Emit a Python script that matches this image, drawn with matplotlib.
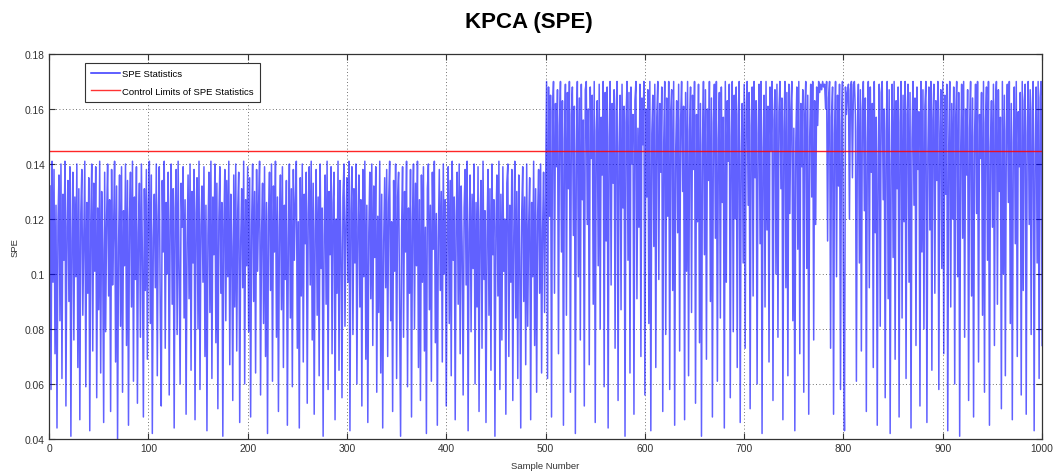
import numpy as np
import matplotlib.pyplot as plt

# SPE values, samples 1..500 (normal operation)
spe_normal = [
    0.132, 0.058, 0.141, 0.097, 0.138, 0.071, 0.125, 0.044, 0.119, 0.136, 0.083, 0.140, 0.062, 0.129, 0.105, 0.141, 0.052, 0.117, 0.134, 0.090,
    0.139, 0.041, 0.112, 0.137, 0.076, 0.128, 0.099, 0.140, 0.066, 0.131, 0.047, 0.122, 0.138, 0.085, 0.114, 0.141, 0.059, 0.126, 0.093, 0.135,
    0.043, 0.118, 0.140, 0.072, 0.133, 0.101, 0.139, 0.055, 0.124, 0.087, 0.141, 0.064, 0.130, 0.109, 0.046, 0.137, 0.079, 0.121, 0.140, 0.092,
    0.127, 0.050, 0.138, 0.096, 0.116, 0.141, 0.068, 0.132, 0.040, 0.110, 0.136, 0.081, 0.139, 0.057, 0.123, 0.103, 0.140, 0.074, 0.134, 0.045,
    0.120, 0.137, 0.088, 0.141, 0.061, 0.128, 0.098, 0.139, 0.053, 0.115, 0.133, 0.077, 0.140, 0.106, 0.048, 0.131, 0.094, 0.138, 0.069, 0.125,
    0.141, 0.082, 0.136, 0.042, 0.113, 0.129, 0.095, 0.140, 0.063, 0.121, 0.139, 0.086, 0.052, 0.134, 0.108, 0.141, 0.073, 0.126, 0.100, 0.137,
    0.056, 0.119, 0.140, 0.089, 0.131, 0.044, 0.124, 0.138, 0.078, 0.141, 0.102, 0.060, 0.133, 0.117, 0.139, 0.084, 0.127, 0.049, 0.111, 0.136,
    0.091, 0.140, 0.065, 0.130, 0.104, 0.138, 0.047, 0.122, 0.135, 0.080, 0.141, 0.058, 0.118, 0.132, 0.097, 0.139, 0.070, 0.125, 0.043, 0.114,
    0.137, 0.086, 0.141, 0.062, 0.128, 0.107, 0.140, 0.075, 0.133, 0.051, 0.120, 0.139, 0.093, 0.126, 0.041, 0.116, 0.138, 0.083, 0.134, 0.099,
    0.141, 0.067, 0.129, 0.110, 0.054, 0.136, 0.088, 0.140, 0.072, 0.123, 0.137, 0.046, 0.112, 0.131, 0.095, 0.141, 0.060, 0.127, 0.103, 0.139,
    0.079, 0.135, 0.048, 0.118, 0.140, 0.090, 0.130, 0.064, 0.138, 0.101, 0.124, 0.141, 0.056, 0.115, 0.133, 0.082, 0.139, 0.070, 0.126, 0.042,
    0.121, 0.137, 0.094, 0.140, 0.061, 0.132, 0.108, 0.141, 0.077, 0.128, 0.050, 0.117, 0.136, 0.087, 0.139, 0.066, 0.125, 0.098, 0.134, 0.045,
    0.113, 0.140, 0.084, 0.131, 0.059, 0.138, 0.105, 0.127, 0.141, 0.073, 0.119, 0.044, 0.135, 0.092, 0.140, 0.068, 0.129, 0.111, 0.137, 0.053,
    0.122, 0.139, 0.096, 0.141, 0.076, 0.133, 0.049, 0.116, 0.138, 0.085, 0.128, 0.063, 0.140, 0.102, 0.124, 0.041, 0.114, 0.136, 0.089, 0.141,
    0.058, 0.130, 0.107, 0.139, 0.071, 0.126, 0.137, 0.047, 0.120, 0.093, 0.141, 0.065, 0.134, 0.110, 0.055, 0.128, 0.140, 0.081, 0.118, 0.135,
    0.097, 0.141, 0.043, 0.123, 0.139, 0.078, 0.131, 0.104, 0.140, 0.060, 0.117, 0.136, 0.088, 0.127, 0.052, 0.138, 0.099, 0.141, 0.069, 0.125,
    0.046, 0.115, 0.137, 0.091, 0.140, 0.074, 0.132, 0.106, 0.139, 0.057, 0.121, 0.086, 0.141, 0.064, 0.129, 0.044, 0.112, 0.135, 0.095, 0.138,
    0.070, 0.126, 0.141, 0.083, 0.119, 0.050, 0.134, 0.101, 0.140, 0.062, 0.128, 0.137, 0.090, 0.041, 0.116, 0.139, 0.077, 0.130, 0.108, 0.141,
    0.059, 0.124, 0.093, 0.138, 0.048, 0.120, 0.140, 0.080, 0.133, 0.103, 0.141, 0.066, 0.127, 0.054, 0.136, 0.097, 0.139, 0.072, 0.117, 0.042,
    0.131, 0.140, 0.087, 0.125, 0.061, 0.137, 0.109, 0.141, 0.075, 0.122, 0.045, 0.113, 0.138, 0.094, 0.130, 0.068, 0.140, 0.100, 0.127, 0.052,
    0.118, 0.139, 0.082, 0.134, 0.063, 0.141, 0.105, 0.128, 0.047, 0.121, 0.137, 0.089, 0.140, 0.071, 0.132, 0.110, 0.056, 0.124, 0.138, 0.096,
    0.141, 0.043, 0.115, 0.136, 0.079, 0.129, 0.102, 0.140, 0.060, 0.126, 0.088, 0.139, 0.050, 0.119, 0.134, 0.073, 0.141, 0.098, 0.123, 0.046,
    0.112, 0.138, 0.085, 0.131, 0.065, 0.140, 0.107, 0.127, 0.041, 0.117, 0.136, 0.092, 0.141, 0.058, 0.129, 0.076, 0.139, 0.101, 0.120, 0.049,
    0.133, 0.140, 0.070, 0.125, 0.097, 0.138, 0.054, 0.114, 0.141, 0.084, 0.130, 0.062, 0.136, 0.106, 0.044, 0.122, 0.139, 0.090, 0.128, 0.067,
    0.140, 0.081, 0.118, 0.135, 0.047, 0.126, 0.099, 0.141, 0.074, 0.131, 0.057, 0.121, 0.138, 0.093, 0.140, 0.064, 0.116, 0.137, 0.086, 0.129,
]

# samples 501..1000 (after the fault)
spe_fault = [
    0.170, 0.062, 0.168, 0.121, 0.165, 0.048, 0.159, 0.170, 0.093, 0.162, 0.139, 0.167, 0.071, 0.154, 0.170, 0.108, 0.163, 0.045, 0.149, 0.169,
    0.085, 0.166, 0.131, 0.170, 0.057, 0.158, 0.168, 0.114, 0.161, 0.042, 0.145, 0.170, 0.099, 0.164, 0.076, 0.169, 0.127, 0.156, 0.052, 0.167,
    0.170, 0.118, 0.160, 0.067, 0.168, 0.142, 0.165, 0.089, 0.170, 0.046, 0.152, 0.163, 0.103, 0.169, 0.080, 0.157, 0.136, 0.170, 0.059, 0.166,
    0.112, 0.168, 0.044, 0.150, 0.170, 0.096, 0.162, 0.133, 0.167, 0.073, 0.159, 0.170, 0.054, 0.146, 0.165, 0.087, 0.169, 0.124, 0.161, 0.041,
    0.155, 0.170, 0.105, 0.166, 0.064, 0.168, 0.140, 0.158, 0.049, 0.163, 0.170, 0.091, 0.153, 0.117, 0.169, 0.070, 0.164, 0.147, 0.170, 0.056,
    0.160, 0.128, 0.167, 0.082, 0.170, 0.043, 0.151, 0.165, 0.110, 0.169, 0.066, 0.157, 0.170, 0.098, 0.162, 0.137, 0.168, 0.050, 0.148, 0.170,
    0.078, 0.164, 0.121, 0.170, 0.058, 0.159, 0.167, 0.094, 0.170, 0.045, 0.144, 0.163, 0.115, 0.169, 0.072, 0.156, 0.170, 0.130, 0.161, 0.047,
    0.166, 0.101, 0.170, 0.063, 0.152, 0.168, 0.086, 0.165, 0.138, 0.170, 0.053, 0.158, 0.119, 0.169, 0.075, 0.162, 0.041, 0.147, 0.170, 0.107,
    0.167, 0.069, 0.160, 0.134, 0.170, 0.090, 0.164, 0.048, 0.155, 0.169, 0.113, 0.170, 0.061, 0.149, 0.166, 0.084, 0.168, 0.126, 0.157, 0.044,
    0.170, 0.097, 0.163, 0.141, 0.169, 0.055, 0.150, 0.170, 0.079, 0.165, 0.120, 0.168, 0.066, 0.158, 0.170, 0.046, 0.143, 0.162, 0.104, 0.169,
    0.073, 0.160, 0.170, 0.125, 0.166, 0.051, 0.154, 0.168, 0.092, 0.170, 0.135, 0.163, 0.060, 0.151, 0.169, 0.111, 0.170, 0.042, 0.146, 0.165,
    0.088, 0.170, 0.116, 0.161, 0.068, 0.168, 0.145, 0.170, 0.054, 0.156, 0.167, 0.100, 0.169, 0.077, 0.159, 0.170, 0.131, 0.164, 0.047, 0.152,
    0.170, 0.095, 0.166, 0.063, 0.169, 0.122, 0.160, 0.170, 0.083, 0.153, 0.043, 0.148, 0.168, 0.109, 0.170, 0.071, 0.162, 0.139, 0.167, 0.057,
    0.158, 0.170, 0.102, 0.165, 0.049, 0.150, 0.169, 0.128, 0.170, 0.076, 0.163, 0.118, 0.168, 0.154, 0.170, 0.166, 0.169, 0.167, 0.170, 0.168,
    0.169, 0.160, 0.170, 0.112, 0.164, 0.170, 0.073, 0.157, 0.168, 0.049, 0.151, 0.170, 0.099, 0.165, 0.132, 0.169, 0.058, 0.154, 0.170, 0.087,
    0.043, 0.168, 0.158, 0.166, 0.169, 0.120, 0.167, 0.170, 0.135, 0.169, 0.170, 0.158, 0.061, 0.152, 0.169, 0.104, 0.167, 0.072, 0.160, 0.170,
    0.123, 0.164, 0.050, 0.148, 0.170, 0.095, 0.168, 0.137, 0.162, 0.066, 0.170, 0.115, 0.157, 0.045, 0.143, 0.169, 0.081, 0.166, 0.170, 0.127,
    0.160, 0.055, 0.152, 0.170, 0.091, 0.167, 0.042, 0.140, 0.169, 0.106, 0.170, 0.069, 0.163, 0.131, 0.168, 0.048, 0.155, 0.170, 0.084, 0.165,
    0.119, 0.170, 0.062, 0.158, 0.169, 0.097, 0.166, 0.044, 0.149, 0.170, 0.125, 0.164, 0.074, 0.168, 0.138, 0.159, 0.052, 0.170, 0.108, 0.167,
    0.080, 0.161, 0.170, 0.046, 0.145, 0.168, 0.116, 0.170, 0.065, 0.156, 0.169, 0.093, 0.163, 0.134, 0.170, 0.058, 0.151, 0.167, 0.102, 0.170,
    0.071, 0.165, 0.129, 0.169, 0.043, 0.147, 0.170, 0.088, 0.162, 0.120, 0.168, 0.060, 0.157, 0.170, 0.099, 0.166, 0.041, 0.144, 0.169, 0.113,
    0.170, 0.077, 0.160, 0.136, 0.167, 0.054, 0.153, 0.170, 0.092, 0.164, 0.048, 0.150, 0.169, 0.122, 0.170, 0.068, 0.158, 0.142, 0.166, 0.085,
    0.170, 0.057, 0.155, 0.168, 0.105, 0.170, 0.045, 0.146, 0.163, 0.117, 0.169, 0.074, 0.161, 0.170, 0.089, 0.167, 0.130, 0.157, 0.051, 0.170,
    0.100, 0.165, 0.063, 0.152, 0.169, 0.126, 0.170, 0.082, 0.162, 0.047, 0.148, 0.168, 0.111, 0.170, 0.070, 0.159, 0.139, 0.166, 0.056, 0.170,
    0.094, 0.163, 0.169, 0.049, 0.151, 0.170, 0.118, 0.167, 0.078, 0.160, 0.170, 0.043, 0.145, 0.168, 0.104, 0.170, 0.062, 0.164, 0.170, 0.074,
]

control_limit = 0.1447

spe = np.array(spe_normal + spe_fault)
samples = np.arange(1, len(spe) + 1)

plt.rcParams['font.family'] = ['Liberation Sans', 'DejaVu Sans']

fig = plt.figure(figsize=(10.57, 4.77), dpi=100)
ax = fig.add_axes([0.0464, 0.0776, 0.9395, 0.8071])

ax.plot(samples, spe, color='#0000ff', lw=1.1, alpha=0.62, label='SPE Statistics')
ax.axhline(control_limit, color='#ff0000', lw=1.0, alpha=0.85,
           label='Control Limits of SPE Statistics')

ax.set_xlim(0, 1000)
ax.set_ylim(0.04, 0.18)
ax.set_xticks(np.arange(0, 1001, 100))
ax.set_yticks(np.arange(0.04, 0.181, 0.02))
ax.set_yticklabels(['0.04', '0.06', '0.08', '0.1', '0.12', '0.14', '0.16', '0.18'])

ax.grid(True, color='#444444', linestyle=(0, (1, 3)), lw=0.6)
ax.tick_params(direction='in', top=True, right=True, length=4, width=0.8,
               labelsize=7.4, colors='#333333', pad=3)
for sp in ax.spines.values():
    sp.set_color('#333333')
    sp.set_linewidth(0.9)

ax.set_xlabel('Sample Number', fontsize=6.8, color='#333333', labelpad=6)
ax.set_ylabel('SPE', fontsize=6.8, color='#333333', labelpad=4)

leg = ax.legend(loc='upper left', bbox_to_anchor=(0.036, 0.977), borderaxespad=0,
                fontsize=6.8, fancybox=False, framealpha=1, edgecolor='#333333',
                handlelength=3.1, handletextpad=0.15, borderpad=0.68, labelspacing=0.9)
leg.get_frame().set_linewidth(0.8)
for h in leg.get_lines():
    h.set_alpha(0.8)

fig.suptitle('KPCA (SPE)', x=0.5, y=0.952, va='center', fontsize=16, fontweight='bold')

fig.savefig('out.png', dpi=100)
